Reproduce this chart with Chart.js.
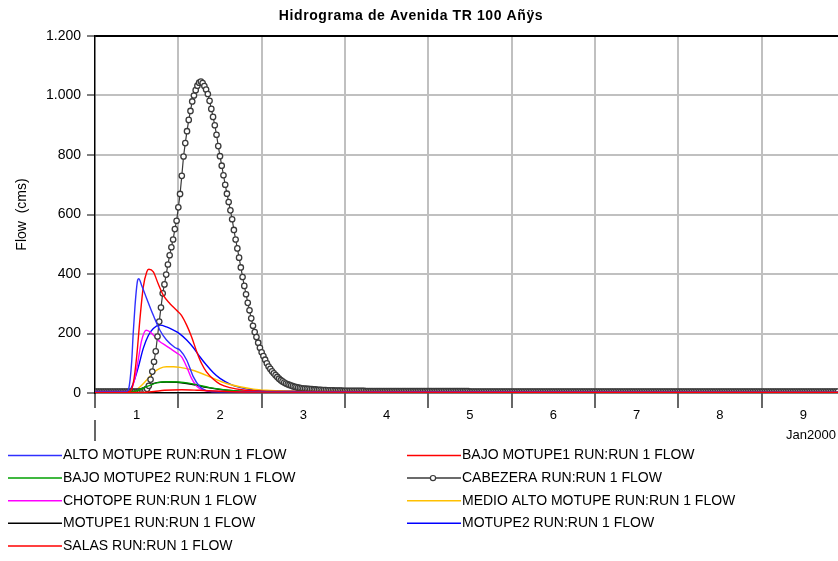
<!DOCTYPE html>
<html>
<head>
<meta charset="utf-8">
<script src="https://cdn.jsdelivr.net/npm/chart.js@4/dist/chart.umd.min.js"></script>
<style>
  html, body { margin: 0; padding: 0; background: #fff; }
  canvas { display: block; }
</style>
</head>
<body>
<canvas id="hidrograma" width="838" height="561"></canvas>
<script>
// hours since 1 Jan 2000 00:00, flow in cms
const dayLabels = ["1", "2", "3", "4", "5", "6", "7", "8", "9"];
const yTicks = [0, 200, 400, 600, 800, 1000, 1200];

const altoMotupeHours = [0, 9, 9.6, 10.1, 10.6, 11, 11.5, 12, 12.3, 12.6, 13.5, 14.9, 16.8, 18.7, 20.6, 23, 24.5, 26.4, 28.3, 30.2, 32, 34, 40, 214];
const altoMotupeFlow  = [5, 5, 10, 44, 111, 200, 289, 356, 380, 384, 360, 317, 261, 211, 178, 153, 144, 111, 55, 21, 8, 5, 4, 3];

const bajoMotupe1Hours = [0, 10, 11, 12, 13, 13.9, 14.9, 15.5, 16.8, 18.2, 19.7, 21.6, 23.5, 24.9, 26.4, 27.8, 29.3, 30.7, 32.1, 34.1, 36, 38.9, 42.7, 46.5, 52, 214];
const bajoMotupe1Flow  = [5, 5, 32, 122, 256, 356, 407, 416, 407, 367, 328, 300, 278, 261, 228, 189, 139, 99, 71, 46, 30, 18, 10, 7, 5, 3];

const bajoMotupe2Hours = [0, 11, 15, 18, 21, 24, 27, 30, 33, 37, 41, 47, 214];
const bajoMotupe2Flow  = [5, 5, 22, 35, 38, 37, 33, 26, 18, 11, 7, 5, 3];

// CABEZERA, one value every 30 minutes from 00:00
const cabezeraStep = 0.5;
const cabezeraFlow = [
  5, 5, 5, 5, 5, 5, 5, 5, 5, 5, 5, 5, 5, 5, 5, 5, 5, 5, 5, 5, 5, 5, 5, 5,
  5, 5, 5, 6, 7, 9, 14, 24, 45, 72, 105, 140, 190, 240, 287, 335, 365, 398, 432, 463, 490, 516, 551, 579,
  624, 669, 730, 795, 840, 880, 918, 948, 980, 1000, 1018, 1033, 1043, 1047, 1042, 1032, 1020, 1005, 982, 955, 928, 900, 868, 830,
  796, 764, 732, 700, 670, 642, 614, 584, 548, 516, 486, 455, 422, 390, 360, 332, 303, 278, 251, 226, 205, 188, 169, 152,
  137, 124, 112, 100, 89, 81, 73, 66, 60, 54, 48, 43, 39, 35, 32, 29, 27, 25, 23, 21, 20, 18, 17, 16,
  15, 15, 14, 14, 13, 13, 12, 12, 11, 11, 11, 10, 10, 10, 9, 9, 9, 9, 8, 8, 8, 8, 8, 7,
  7, 7, 7, 7, 7, 7, 7, 7, 7, 7, 7, 7, 6, 6, 6, 6, 6, 6, 6, 6, 6, 6, 6, 6,
  6, 6, 6, 6, 6, 6, 6, 6, 6, 6, 6, 6, 6, 6, 6, 6, 6, 6, 6, 6, 6, 6, 6, 6,
  6, 6, 6, 6, 6, 6, 6, 6, 6, 6, 6, 6, 6, 6, 6, 6, 6, 6, 6, 6, 6, 6, 6, 6,
  5, 5, 5, 5, 5, 5, 5, 5, 5, 5, 5, 5, 5, 5, 5, 5, 5, 5, 5, 5, 5, 5, 5, 5,
  5, 5, 5, 5, 5, 5, 5, 5, 5, 5, 5, 5, 5, 5, 5, 5, 5, 5, 5, 5, 5, 5, 5, 5,
  5, 5, 5, 5, 5, 5, 5, 5, 5, 5, 5, 5, 5, 5, 5, 5, 5, 5, 5, 5, 5, 5, 5, 5,
  5, 5, 5, 5, 5, 5, 5, 5, 5, 5, 5, 5, 5, 5, 5, 5, 5, 5, 5, 5, 5, 5, 5, 5,
  5, 5, 5, 5, 5, 5, 5, 5, 5, 5, 5, 5, 5, 5, 5, 5, 5, 5, 5, 5, 5, 5, 5, 5,
  5, 5, 5, 5, 5, 5, 5, 5, 5, 5, 5, 5, 5, 5, 5, 5, 5, 5, 5, 5, 5, 5, 5, 5,
  5, 5, 5, 5, 5, 5, 5, 5, 5, 5, 5, 5, 5, 5, 5, 5, 5, 5, 5, 5, 5, 5, 5, 5,
  5, 5, 5, 5, 5, 5, 5, 5, 5, 5, 5, 5, 5, 5, 5, 5, 5, 5, 5, 5, 5, 5, 5, 5,
  5, 5, 5, 5, 5, 5, 5, 5, 5, 5, 5, 5, 5, 5, 5, 5, 5, 5, 5, 5, 5
];

const chotopeHours = [0, 10, 11.5, 12.5, 13.4, 14.7, 15.8, 17.3, 18.7, 20.2, 21.6, 23.5, 24.9, 26.4, 27.8, 29.3, 31.2, 34, 214];
const chotopeFlow  = [5, 5, 50, 115, 175, 211, 206, 189, 172, 161, 150, 135, 122, 88, 49, 23, 10, 5, 3];

const medioAltoHours = [0, 11, 13, 14.9, 16.8, 18.7, 20.6, 22.6, 24.5, 27.4, 30.2, 34.1, 37.9, 41.7, 45.6, 49.4, 55, 60, 214];
const medioAltoFlow  = [5, 5, 21, 44, 68, 83, 88, 88, 86, 79, 68, 49, 32, 21, 13, 9, 6, 5, 3];

const motupe1Hours = [0, 11, 14.9, 17.8, 20.6, 23.5, 26.4, 29.3, 32, 36, 39.8, 45.6, 214];
const motupe1Flow  = [5, 5, 23, 35, 37, 36, 32, 26, 19, 12, 8, 5, 3];

const motupe2Hours = [0, 9.6, 11, 12.5, 13.9, 15.4, 16.8, 18.7, 20.6, 22.6, 24.5, 26.4, 28.3, 30.2, 32.1, 34.1, 36, 38.9, 41.7, 45.6, 49.4, 55, 214];
const motupe2Flow  = [5, 5, 32, 88, 150, 194, 217, 228, 222, 211, 198, 178, 153, 122, 94, 68, 49, 30, 19, 10, 7, 5, 3];

const salasHours = [0, 14, 17, 20, 25, 30, 36, 45, 214];
const salasFlow  = [2, 2, 5, 9, 11, 9, 6, 3, 2];

const FONT = "'Liberation Sans', Arial, sans-serif";
const pts = (hs, vs) => hs.map((h, i) => ({ x: h, y: vs[i] }));

function lineSet(label, hours, flow, color) {
  return {
    label,
    data: pts(hours, flow),
    borderColor: color,
    backgroundColor: color,
    borderWidth: 1.4,
    pointRadius: 0,
    cubicInterpolationMode: "monotone",
  };
}

const datasets = [
  lineSet("ALTO MOTUPE RUN:RUN 1 FLOW", altoMotupeHours, altoMotupeFlow, "#3030ff"),
  lineSet("BAJO MOTUPE1 RUN:RUN 1 FLOW", bajoMotupe1Hours, bajoMotupe1Flow, "#ff0000"),
  lineSet("BAJO MOTUPE2 RUN:RUN 1 FLOW", bajoMotupe2Hours, bajoMotupe2Flow, "#00a000"),
  {
    label: "CABEZERA RUN:RUN 1 FLOW",
    data: cabezeraFlow.map((v, i) => ({ x: i * cabezeraStep, y: v })),
    borderColor: "#3a3a3a",
    borderWidth: 1.2,
    pointRadius: 2.7,
    pointBorderWidth: 1.3,
    pointBorderColor: "#3a3a3a",
    pointBackgroundColor: "#ffffff",
    tension: 0,
  },
  lineSet("CHOTOPE RUN:RUN 1 FLOW", chotopeHours, chotopeFlow, "#ff00ff"),
  lineSet("MEDIO ALTO MOTUPE RUN:RUN 1 FLOW", medioAltoHours, medioAltoFlow, "#ffc000"),
  lineSet("MOTUPE1 RUN:RUN 1 FLOW", motupe1Hours, motupe1Flow, "#000000"),
  lineSet("MOTUPE2 RUN:RUN 1 FLOW", motupe2Hours, motupe2Flow, "#0000ff"),
  lineSet("SALAS RUN:RUN 1 FLOW", salasHours, salasFlow, "#ff0000"),
];
datasets[8].order = -1; // SALAS on top

// ticks every half day: day boundaries get tick marks, mid-days get the labels
const xTickHours = [];
dayLabels.forEach((d, i) => { xTickHours.push(i * 24, i * 24 + 12); });
const isBoundary = (v) => v % 24 === 0;

function thousands(v) {
  if (v < 1000) return String(v);
  return Math.floor(v / 1000) + "." + String(v % 1000).padStart(3, "0");
}

const decor = {
  id: "decor",
  afterDraw(chart) {
    const { ctx, chartArea } = chart;
    const x0 = chart.scales.x.getPixelForValue(0);
    ctx.save();
    // top frame line
    ctx.strokeStyle = "#000";
    ctx.lineWidth = 1.5;
    ctx.beginPath();
    ctx.moveTo(chartArea.left, chartArea.top);
    ctx.lineTo(chartArea.right, chartArea.top);
    ctx.stroke();
    // month separator + label
    ctx.lineWidth = 1.2;
    ctx.beginPath();
    ctx.moveTo(x0, 420);
    ctx.lineTo(x0, 441);
    ctx.stroke();
    ctx.fillStyle = "#000";
    ctx.font = "13px " + FONT;
    ctx.textAlign = "right";
    ctx.textBaseline = "middle";
    ctx.fillText("Jan2000", 836, 435);
    // title
    ctx.font = "bold 14px " + FONT;
    ctx.letterSpacing = "0.6px";
    ctx.textAlign = "center";
    ctx.fillText("Hidrograma de Avenida TR 100 A\u00f1\u00ffs", 411, 16);
    ctx.letterSpacing = "0px";
    // legend, two columns
    ctx.font = "14px " + FONT;
    ctx.textAlign = "left";
    chart.data.datasets.forEach((ds, i) => {
      const col = i % 2, row = Math.floor(i / 2);
      const lx = col === 0 ? 8 : 407;
      const ly = 455.5 + row * 22.6;
      ctx.strokeStyle = ds.borderColor;
      ctx.lineWidth = 1.5;
      ctx.beginPath();
      ctx.moveTo(lx, ly);
      ctx.lineTo(lx + 54, ly);
      ctx.stroke();
      if (ds.pointRadius > 0) {
        ctx.fillStyle = "#fff";
        ctx.lineWidth = 1.2;
        ctx.beginPath();
        ctx.arc(lx + 26, ly, 2.6, 0, Math.PI * 2);
        ctx.fill();
        ctx.stroke();
      }
      ctx.fillStyle = "#000";
      ctx.fillText(ds.label, lx + 55, ly);
    });
    ctx.restore();
  },
};

new Chart(document.getElementById("hidrograma"), {
  type: "line",
  data: { datasets },
  options: {
    responsive: false,
    animation: false,
    devicePixelRatio: 1,
    layout: { autoPadding: false, padding: { top: 36, right: 0, bottom: 0, left: 0 } },
    plugins: { legend: { display: false }, tooltip: { enabled: false }, title: { display: false } },
    scales: {
      x: {
        type: "linear",
        min: 0,
        max: 214,
        afterBuildTicks: (axis) => { axis.ticks = xTickHours.map((value) => ({ value })); },
        afterFit: (axis) => { axis.height = 168; axis.paddingLeft = 0; axis.paddingRight = 0; },
        border: { color: "#000", width: 1.5 },
        grid: {
          color: (c) => (isBoundary(c.tick.value) && c.tick.value > 0 ? "#c0c0c0" : "rgba(0,0,0,0)"),
          lineWidth: 2,
          tickColor: (c) => (isBoundary(c.tick.value) ? "#000" : "rgba(0,0,0,0)"),
          tickLength: 15,
          tickWidth: 1.2,
        },
        ticks: {
          autoSkip: false,
          maxRotation: 0,
          padding: 0,
          color: "#000",
          font: { family: FONT, size: 13 },
          callback: (v) => (isBoundary(v) ? "" : dayLabels[Math.floor(v / 24)]),
        },
      },
      y: {
        min: 0,
        max: 1200,
        afterBuildTicks: (axis) => { axis.ticks = yTicks.map((value) => ({ value })); },
        afterFit: (axis) => { axis.width = 95; },
        border: { color: "#000", width: 1.5 },
        grid: {
          color: (c) => (c.tick.value === 0 ? "rgba(0,0,0,0)" : c.tick.value === 1200 ? "#000" : "#c0c0c0"),
          lineWidth: 2,
          tickColor: "#000",
          tickLength: 8,
          tickWidth: 1,
        },
        ticks: {
          padding: 6,
          color: "#000",
          font: { family: FONT, size: 14 },
          callback: (v) => thousands(v),
        },
        title: {
          display: true,
          text: "Flow  (cms)",
          color: "#000",
          font: { family: FONT, size: 14 },
          padding: { top: 14, bottom: 0 },
        },
      },
    },
  },
  plugins: [decor],
});
</script>
</body>
</html>
